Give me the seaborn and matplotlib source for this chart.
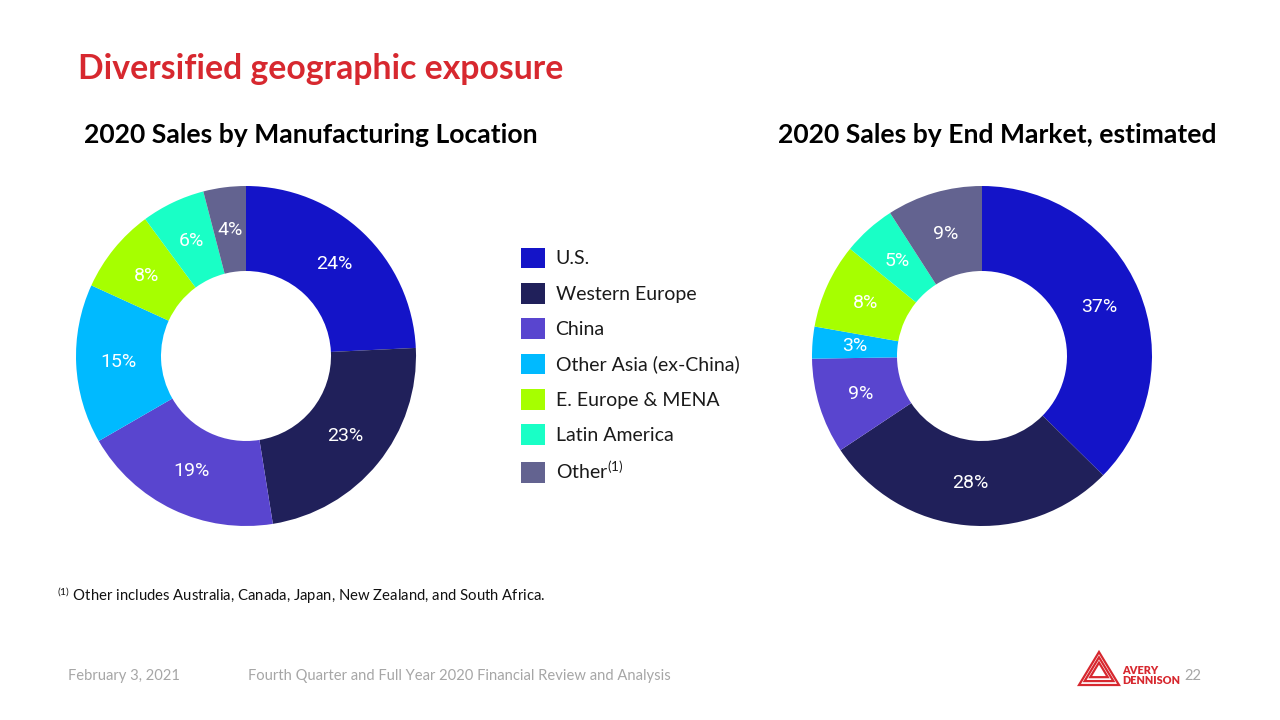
import matplotlib
matplotlib.use("Agg")
import matplotlib.pyplot as plt
import seaborn as sns
from matplotlib.patches import Patch, Polygon

sns.set_theme(style="white")
plt.rcParams['font.family'] = ['Lato', 'DejaVu Sans']
plt.rcParams['mathtext.fontset'] = 'custom'
plt.rcParams['mathtext.rm'] = 'Lato'
plt.rcParams['mathtext.it'] = 'Lato:italic'
plt.rcParams['mathtext.bf'] = 'Lato:bold'

# ---- data ----
regions = ["U.S.", "Western Europe", "China", "Other Asia (ex-China)",
           "E. Europe & MENA", "Latin America", "Other$^{(1)}$"]
manufacturing_pct = [24, 23, 19, 15, 8, 6, 4]
end_market_pct = [37, 28, 9, 3, 8, 5, 9]
region_colors = ["#1414C8", "#20205A", "#5945CF", "#00BAFF",
                 "#A6FF00", "#19FFC6", "#636390"]
palette = sns.color_palette(region_colors)

title = "Diversified geographic exposure"
left_title = "2020 Sales by Manufacturing Location"
right_title = "2020 Sales by End Market, estimated"
footnote = "$^{(1)}$ Other includes Australia, Canada, Japan, New Zealand, and South Africa."
footer_date = "February 3, 2021"
footer_text = "Fourth Quarter and Full Year 2020 Financial Review and Analysis"
page_no = "22"

W, H = 1280, 720
fig = plt.figure(figsize=(12.8, 7.2), dpi=100)
fig.patch.set_facecolor("white")


def px_axes(cx, cy, r):
    return fig.add_axes([(cx - r) / W, (H - cy - r) / H, 2 * r / W, 2 * r / H])


def donut(ax, values):
    total = sum(values)
    wedges, texts, autotexts = ax.pie(
        values, colors=palette, startangle=90, counterclock=False,
        radius=1.0, pctdistance=0.75,
        autopct=lambda p: f"{round(p * total / 100):.0f}%",
        wedgeprops=dict(width=0.5, edgecolor="white", linewidth=0.0),
        textprops=dict(color="white", fontsize=14, family=['Roboto', 'DejaVu Sans']))
    ax.set_xlim(-1.0, 1.0)
    ax.set_ylim(-1.0, 1.0)
    ax.set_aspect("equal")
    ax.axis("off")
    return wedges


axL = px_axes(246, 356, 170)
donut(axL, manufacturing_pct)
axR = px_axes(982, 356, 170)
donut(axR, end_market_pct)

# titles
fig.text(78 / W, 1 - 79 / H, title, color="#D7282F", fontsize=24.3,
         fontweight="bold", ha="left", va="baseline")
fig.text(84 / W, 1 - 143 / H, left_title, color="black", fontsize=19.1,
         fontweight="bold", ha="left", va="baseline")
fig.text(778 / W, 1 - 143 / H, right_title, color="black", fontsize=19.1,
         fontweight="bold", ha="left", va="baseline")

# legend
handles = [Patch(facecolor=c, edgecolor="none") for c in palette]
fig.legend(handles, regions, loc="upper left",
           bbox_to_anchor=(507 / W, 1 - 234 / H), frameon=False,
           fontsize=14, handlelength=1.25, handleheight=1.25,
           labelspacing=0.76, handletextpad=0.55, borderpad=0.2,
           labelcolor="#1a1a1a")

# footnote & footer
fig.text(57 / W, 1 - 601 / H, footnote, fontsize=10.7, color="#111111",
         ha="left", va="baseline")
fig.text(68 / W, 1 - 680 / H, footer_date, fontsize=10.6, color="#A6A6A6",
         ha="left", va="baseline")
fig.text(248 / W, 1 - 680 / H, footer_text, fontsize=10.6, color="#A6A6A6",
         ha="left", va="baseline")
fig.text(1201 / W, 1 - 680 / H, page_no, fontsize=10.6, color="#A6A6A6",
         ha="right", va="baseline")

# logo (decorative)
red = "#D7282F"
for s in [1.0, 0.72, 0.44]:
    cx, cy = 1099, 671
    pts = [(cx + (x - cx) * s, cy + (y - cy) * s)
           for x, y in [(1099, 652), (1119, 685), (1079, 685)]]
    fig.add_artist(Polygon([(x / W, 1 - y / H) for x, y in pts],
                           closed=True, fill=False, edgecolor=red,
                           linewidth=1.6, transform=fig.transFigure))
fig.text(1122 / W, 1 - 674 / H, "AVERY", fontsize=7.8, color=red,
         fontweight="heavy", ha="left", va="baseline")
fig.text(1122 / W, 1 - 684 / H, "DENNISON", fontsize=7.8, color=red,
         fontweight="heavy", ha="left", va="baseline")

fig.savefig("out.png", dpi=100, facecolor="white")
